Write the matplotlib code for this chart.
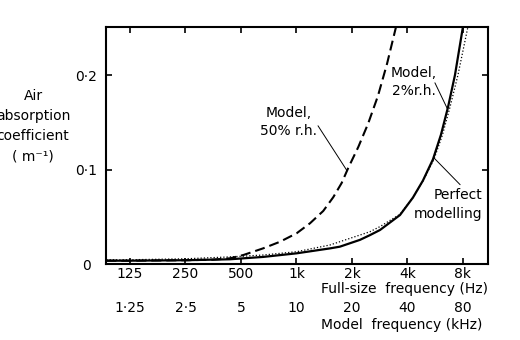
import matplotlib
matplotlib.use("Agg")
import matplotlib.pyplot as plt
import matplotlib.transforms as mtransforms

# values (frequency in Hz, coefficient in 1/m)
freq_50 = [93, 125, 250, 350, 435, 515, 661, 814, 1003, 1184, 1397, 1583,
           1758, 1910, 2164, 2450, 2767, 3100, 3464]
abs_50 = [0.004, 0.004, 0.0045, 0.005, 0.0065, 0.010, 0.0171, 0.024, 0.033,
          0.0435, 0.0565, 0.071, 0.086, 0.102, 0.124, 0.149, 0.178, 0.212,
          0.2505]

freq_2 = [93, 125, 250, 435, 661, 1003, 1520, 1719, 2210, 2504, 2838, 3643,
          4285, 4853, 5500, 6078, 6636, 7240, 8000]
abs_2 = [0.004, 0.004, 0.0045, 0.0055, 0.008, 0.0118, 0.017, 0.0188, 0.026,
         0.031, 0.0364, 0.0522, 0.0707, 0.0886, 0.111, 0.137, 0.166, 0.200,
         0.251]

freq_perfect = [93, 125, 250, 435, 661, 1003, 1520, 2504, 2838, 3643, 4285,
                4853, 5569, 6197, 6802, 7514, 8514]
abs_perfect = [0.005, 0.005, 0.006, 0.008, 0.010, 0.0135, 0.0206, 0.0346,
               0.040, 0.053, 0.0707, 0.0881, 0.111, 0.137, 0.166, 0.200, 0.251]

full_ticks = [125, 250, 500, 1000, 2000, 4000, 8000]
full_labels = ['125', '250', '500', '1k', '2k', '4k', '8k']
model_labels = ['1·25', '2·5', '5', '10', '20', '40', '80']
y_ticks = [0, 0.1, 0.2]
y_labels = ['0', '0·1', '0·2']

plt.rcParams['font.family'] = 'DejaVu Sans'
plt.rcParams['font.size'] = 10

fig = plt.figure(figsize=(5.2, 3.4), dpi=100)
ax = fig.add_axes([0.2038, 0.2221, 0.7347, 0.6985])

ax.plot(freq_2, abs_2, color='black', lw=1.6)
ax.plot(freq_perfect, abs_perfect, color='black', lw=0.9, dashes=(1, 1.6))
ax.plot(freq_50, abs_50, color='black', lw=1.5, dashes=(4.8, 2.4))

ax.set_xscale('log', base=2)
ax.set_xlim(92.6, 10940)
ax.set_ylim(0, 0.2507)
ax.set_xticks(full_ticks)
ax.set_xticklabels(full_labels)
ax.minorticks_off()
ax.set_yticks(y_ticks)
ax.set_yticklabels(y_labels)
for lbl in ax.get_yticklabels():
    lbl.set_horizontalalignment('center')

for s in ax.spines.values():
    s.set_linewidth(1.5)
ax.tick_params(axis='both', direction='in', top=True, right=True,
               length=4.5, width=1.2)
ax.tick_params(axis='x', pad=2)
ax.tick_params(axis='y', pad=14)

# model frequency row under the full-size one
trans = mtransforms.blended_transform_factory(ax.transData, ax.transAxes)
for f, lab in zip(full_ticks, model_labels):
    ax.text(f, -0.183, lab, transform=trans, ha='center', va='center')
ax.text(0.781, -0.104, 'Full-size  frequency (Hz)', transform=ax.transAxes,
        ha='center', va='center')
ax.text(0.774, -0.255, 'Model  frequency (kHz)', transform=ax.transAxes,
        ha='center', va='center')

fig.text(33 / 520, 0.629, 'Air\nabsorption\ncoefficient\n( m⁻¹)',
         ha='center', va='center', linespacing=1.55)

# curve labels with leader lines
ax.text(0.479, 0.601, 'Model,\n50% r.h.', transform=ax.transAxes,
        ha='center', va='center', linespacing=1.35)
ax.annotate('', xy=(1880, 0.099), xytext=(0.555, 0.584),
            textcoords='axes fraction',
            arrowprops=dict(arrowstyle='-', lw=0.7, shrinkA=0, shrinkB=0))

ax.text(0.806, 0.769, 'Model,\n2%r.h.', transform=ax.transAxes,
        ha='center', va='center', linespacing=1.4)
ax.annotate('', xy=(6600, 0.164), xytext=(0.861, 0.765),
            textcoords='axes fraction',
            arrowprops=dict(arrowstyle='-', lw=0.7, shrinkA=0, shrinkB=0))

ax.text(0.984, 0.252, 'Perfect\nmodelling', transform=ax.transAxes,
        ha='right', va='center', multialignment='right', linespacing=1.4)
ax.annotate('', xy=(5600, 0.112), xytext=(0.927, 0.336),
            textcoords='axes fraction',
            arrowprops=dict(arrowstyle='-', lw=0.7, shrinkA=0, shrinkB=0))

fig.savefig('out.png', dpi=100)
